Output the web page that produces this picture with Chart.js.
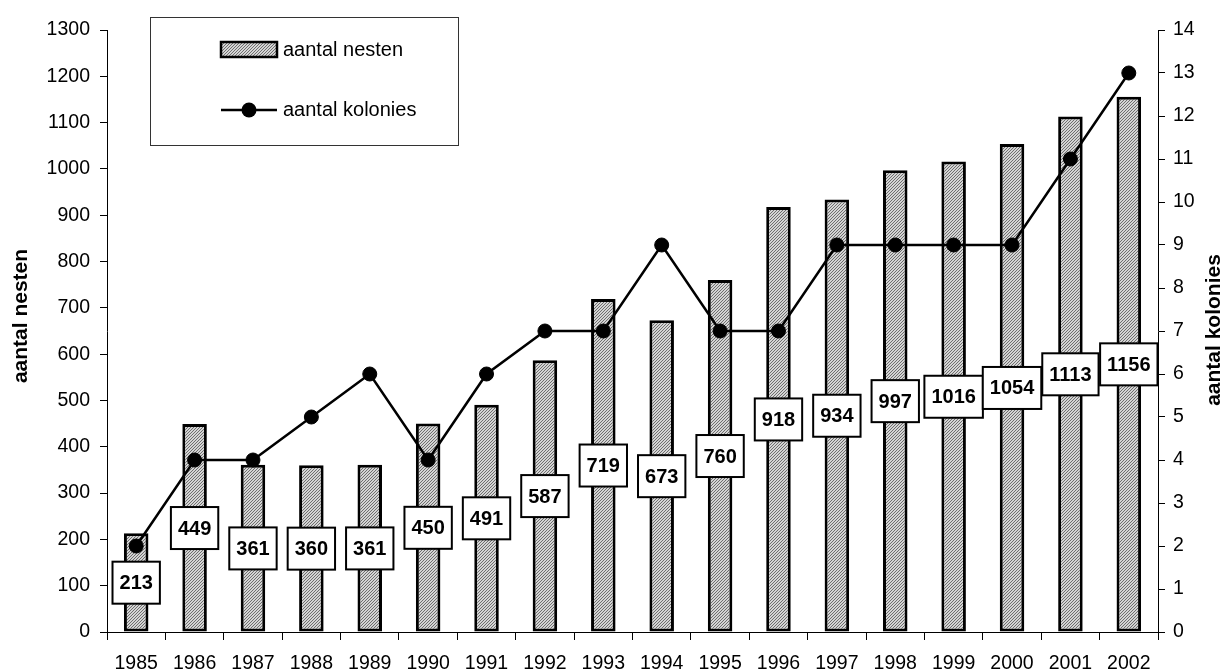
<!DOCTYPE html>
<html>
<head>
<meta charset="utf-8">
<script src="https://cdn.jsdelivr.net/npm/chart.js@4/dist/chart.umd.min.js"></script>
<style>
  body { margin: 0; background: #fff; }
  canvas { display: block; }
</style>
</head>
<body>
<canvas id="nestChart" width="1224" height="670"></canvas>
<script>
const years = ['1985', '1986', '1987', '1988', '1989', '1990', '1991', '1992', '1993',
  '1994', '1995', '1996', '1997', '1998', '1999', '2000', '2001', '2002'];
const nesten = [213, 449, 361, 360, 361, 450, 491, 587, 719, 673, 760, 918, 934, 997, 1016, 1054, 1113, 1156];
const kolonies = [2, 4, 4, 5, 6, 4, 6, 7, 7, 9, 7, 7, 9, 9, 9, 9, 11, 13];
const leftTitle = 'aantal nesten';
const rightTitle = 'aantal kolonies';

// hatched grey fill like the old excel bars
function makeHatch() {
  const c = document.createElement('canvas');
  c.width = 3; c.height = 3;
  const g = c.getContext('2d');
  g.fillStyle = '#d4d4d4';
  g.fillRect(0, 0, 3, 3);
  g.fillStyle = '#6e6e6e';
  g.fillRect(2, 0, 1, 1);
  g.fillRect(1, 1, 1, 1);
  g.fillRect(0, 2, 1, 1);
  return g.createPattern(c, 'repeat');
}
const hatch = makeHatch();

const tickFont = { family: 'Arial, "Liberation Sans", sans-serif', size: 19.5 };

// white boxes with the bar value, half way up each bar
const valueBoxes = {
  id: 'valueBoxes',
  afterDatasetsDraw(chart) {
    const ctx = chart.ctx;
    const meta = chart.getDatasetMeta(0);
    const yScale = chart.scales.y;
    ctx.save();
    ctx.font = 'bold 20px Arial, "Liberation Sans", sans-serif';
    ctx.textAlign = 'center';
    ctx.textBaseline = 'middle';
    meta.data.forEach((bar, i) => {
      const v = nesten[i];
      const txt = String(v);
      const w = ctx.measureText(txt).width + 14;
      const h = 42;
      const cy = yScale.getPixelForValue(v / 2);
      ctx.fillStyle = '#fff';
      ctx.fillRect(bar.x - w / 2, cy - h / 2, w, h);
      ctx.strokeStyle = '#000';
      ctx.lineWidth = 2;
      ctx.strokeRect(bar.x - w / 2, cy - h / 2, w, h);
      ctx.fillStyle = '#000';
      ctx.fillText(txt, bar.x, cy + 1);
    });
    ctx.restore();
  }
};

// legend box and axis titles (both titles read bottom to top)
const extras = {
  id: 'extras',
  afterDraw(chart) {
    const ctx = chart.ctx;
    const ds = chart.data.datasets;
    ctx.save();
    ctx.strokeStyle = '#333';
    ctx.lineWidth = 1;
    ctx.strokeRect(150.5, 17.5, 308, 128);

    ctx.fillStyle = hatch;
    ctx.fillRect(221, 42, 56, 15);
    ctx.strokeStyle = '#000';
    ctx.lineWidth = 2.5;
    ctx.strokeRect(221, 42, 56, 15);

    ctx.beginPath();
    ctx.moveTo(221, 110); ctx.lineTo(277, 110);
    ctx.stroke();
    ctx.beginPath();
    ctx.arc(249, 110, 7.5, 0, Math.PI * 2);
    ctx.fillStyle = '#000';
    ctx.fill();

    ctx.font = '20px Arial, "Liberation Sans", sans-serif';
    ctx.textAlign = 'left';
    ctx.textBaseline = 'middle';
    ctx.fillText(ds[0].label, 283, 50);
    ctx.fillText(ds[1].label, 283, 110);

    ctx.font = 'bold 21px Arial, "Liberation Sans", sans-serif';
    ctx.textAlign = 'center';
    ctx.save();
    ctx.translate(21, 316);
    ctx.rotate(-Math.PI / 2);
    ctx.fillText(leftTitle, 0, 0);
    ctx.restore();
    ctx.save();
    ctx.translate(1214, 330);
    ctx.rotate(-Math.PI / 2);
    ctx.fillText(rightTitle, 0, 0);
    ctx.restore();
    ctx.restore();
  }
};

new Chart(document.getElementById('nestChart'), {
  type: 'bar',
  data: {
    labels: years,
    datasets: [
      {
        label: 'aantal nesten',
        data: nesten,
        yAxisID: 'y',
        backgroundColor: hatch,
        borderColor: '#000',
        borderWidth: 3,
        borderSkipped: false,
        barPercentage: 0.42,
        categoryPercentage: 1,
        order: 2
      },
      {
        type: 'line',
        label: 'aantal kolonies',
        data: kolonies,
        yAxisID: 'y1',
        borderColor: '#000',
        borderWidth: 2.5,
        pointRadius: 7,
        pointBackgroundColor: '#000',
        pointBorderColor: '#000',
        pointBorderWidth: 1,
        tension: 0,
        order: 1
      }
    ]
  },
  options: {
    responsive: false,
    animation: false,
    layout: { padding: { top: 30, left: 0, right: 0, bottom: 0 } },
    plugins: {
      legend: { display: false },
      tooltip: { enabled: false }
    },
    scales: {
      x: {
        grid: { offset: true, drawOnChartArea: false, tickLength: 8, color: '#000' },
        border: { color: '#000', width: 1 },
        ticks: { color: '#000', font: tickFont, padding: 12, maxRotation: 0, autoSkip: false },
        afterFit(s) { s.height = 38; }
      },
      y: {
        position: 'left',
        min: 0,
        max: 1300,
        ticks: { stepSize: 100, color: '#000', font: tickFont, padding: 10, callback: v => String(v) },
        grid: { drawOnChartArea: false, tickLength: 7, color: '#000' },
        border: { color: '#000', width: 1 },
        afterFit(s) { s.width = 107; }
      },
      y1: {
        position: 'right',
        min: 0,
        max: 14,
        ticks: { stepSize: 1, color: '#000', font: tickFont, padding: 8 },
        grid: { drawOnChartArea: false, tickLength: 7, color: '#000' },
        border: { color: '#000', width: 1 },
        afterFit(s) { s.width = 66; }
      }
    }
  },
  plugins: [valueBoxes, extras]
});
</script>
</body>
</html>
